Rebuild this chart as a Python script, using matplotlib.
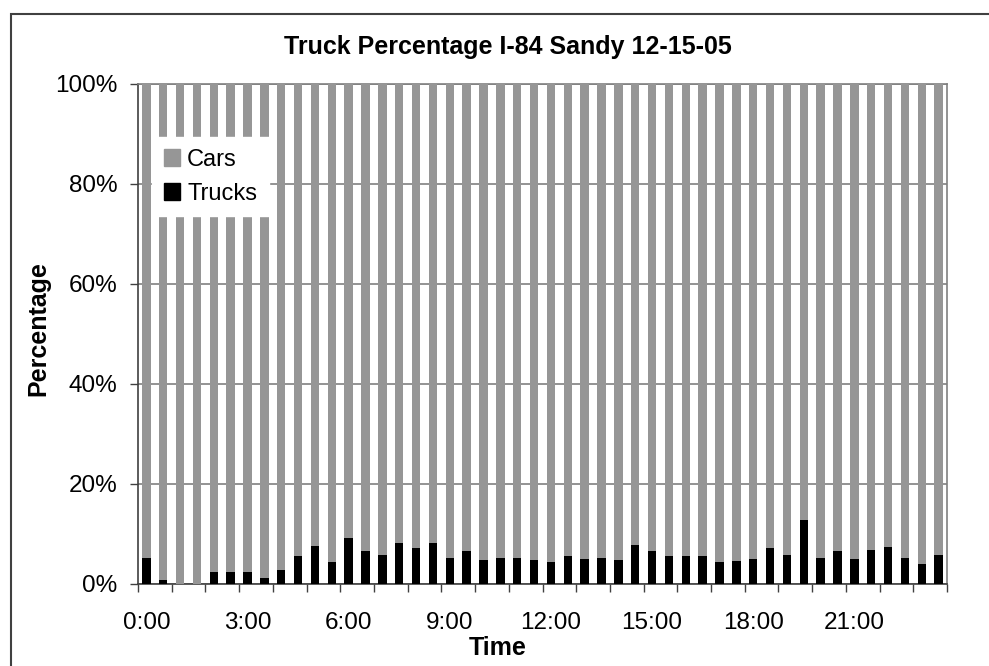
import matplotlib
matplotlib.use("Agg")
import matplotlib.pyplot as plt
import matplotlib.patches as mpatches
import numpy as np
from matplotlib.ticker import FixedLocator, FuncFormatter

plt.rcParams["font.family"] = ["Liberation Sans", "DejaVu Sans"]

# Half-hour bins over the day, share of each vehicle class (%)
times = [f"{h}:{m:02d}" for h in range(24) for m in (0, 30)]
trucks = [5.3, 0.9, 0.0, 0.0, 2.5, 2.5, 2.5, 1.3, 2.9, 5.7, 7.6, 4.5,
          9.2, 6.7, 5.9, 8.3, 7.3, 8.3, 5.3, 6.7, 4.8, 5.3, 5.3, 4.8,
          4.5, 5.7, 5.1, 5.3, 4.8, 7.9, 6.7, 5.7, 5.7, 5.7, 4.5, 4.7,
          5.1, 7.3, 5.9, 12.9, 5.3, 6.6, 5.1, 6.9, 7.5, 5.3, 4.1, 5.9]
cars = [94.7, 99.1, 100.0, 100.0, 97.5, 97.5, 97.5, 98.7, 97.1, 94.3, 92.4, 95.5,
        90.8, 93.3, 94.1, 91.7, 92.7, 91.7, 94.7, 93.3, 95.2, 94.7, 94.7, 95.2,
        95.5, 94.3, 94.9, 94.7, 95.2, 92.1, 93.3, 94.3, 94.3, 94.3, 95.5, 95.3,
        94.9, 92.7, 94.1, 87.1, 94.7, 93.4, 94.9, 93.1, 92.5, 94.7, 95.9, 94.1]

W, H = 989, 666
fig = plt.figure(figsize=(W / 100, H / 100), dpi=100)
ax = fig.add_axes([138 / W, 1 - 584 / H, (947 - 138) / W, (584 - 84) / H])

x = np.arange(len(times))
ax.bar(x, trucks, width=0.5, color="black", label="Trucks", zorder=3)
ax.bar(x, cars, width=0.5, bottom=trucks, color="#969696", label="Cars", zorder=3)

ax.set_xlim(-0.5, len(times) - 0.5)
ax.set_ylim(0, 100)

# y axis: percent ticks with gray gridlines
ax.set_yticks(np.arange(0, 101, 20))
ax.yaxis.set_major_formatter(FuncFormatter(lambda v, _: f"{v:.0f}%"))
ax.grid(axis="y", color="#808080", linewidth=1.2, zorder=1)
ax.tick_params(axis="y", length=6, width=1, pad=9, labelsize=17.5, color="#404040")

# x axis: labels every 3 hours, tick marks between every second bin
ax.xaxis.set_major_locator(FixedLocator(x[::6]))
ax.set_xticklabels(times[::6])
ax.xaxis.set_minor_locator(FixedLocator(np.arange(-0.5, len(times), 2)))
ax.tick_params(axis="x", which="major", length=0, pad=20, labelsize=17.5)
ax.tick_params(axis="x", which="minor", length=6, width=1, color="#404040")

for side in ("top", "right"):
    ax.spines[side].set_color("#808080")
    ax.spines[side].set_linewidth(1.2)
for side in ("left", "bottom"):
    ax.spines[side].set_color("#404040")
    ax.spines[side].set_linewidth(1.2)

handles = [mpatches.Patch(color="#969696", label="Cars"),
           mpatches.Patch(color="black", label="Trucks")]
leg = ax.legend(handles=handles, loc="upper left", bbox_to_anchor=(0.017, 0.894),
                borderaxespad=0, fontsize=17, handlelength=0.7, handleheight=0.7,
                handletextpad=0.3, labelspacing=0.5, borderpad=0.5,
                fancybox=False, framealpha=1, facecolor="white", edgecolor="white")
leg.set_zorder(5)

fig.text(508 / W, 1 - 47 / H, "Truck Percentage I-84 Sandy 12-15-05",
         ha="center", va="center", fontsize=18, fontweight="bold")
fig.text(498 / W, 1 - 648 / H, "Time", ha="center", va="center",
         fontsize=18, fontweight="bold")
fig.text(38 / W, 1 - 329 / H, "Percentage", ha="center", va="center",
         rotation=90, fontsize=18, fontweight="bold")

# chart area border
fig.patches.append(mpatches.Rectangle((11 / W, -0.1), 1.2, 1.1 - 14 / H,
                                      transform=fig.transFigure, fill=False,
                                      edgecolor="#404040", linewidth=1.5))

fig.savefig("out.png", dpi=100)
